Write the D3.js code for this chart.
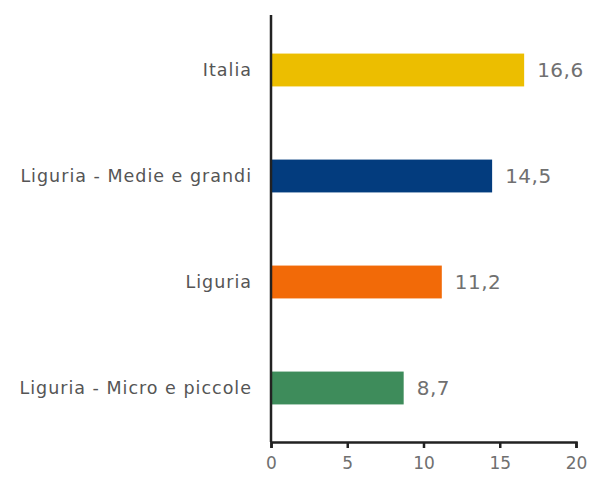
<!DOCTYPE html>
<html>
<head>
<meta charset="utf-8">
<script src="https://cdn.jsdelivr.net/npm/d3@7"></script>
<style>
  body { margin: 0; background: #fff; }
  svg text { font-family: "DejaVu Sans", sans-serif; }
</style>
</head>
<body>
<div id="chart"></div>
<script>
const categories = ['Italia', 'Liguria - Medie e grandi', 'Liguria', 'Liguria - Micro e piccole'];
const values = [16.6, 14.5, 11.2, 8.7];
const barColors = ['#ECBE00', '#033C7E', '#F26A08', '#3E8C5B'];
const xTicks = [0, 5, 10, 15, 20];

const W = 590, H = 477;
const x0 = 271, x1 = 576;
const yTop = 15, yBase = 442;

const svg = d3.select('#chart').append('svg')
    .attr('width', W)
    .attr('height', H);

const x = d3.scaleLinear().domain([0, 20]).range([x0, x1]);
const y = d3.scaleBand()
    .domain(categories)
    .range([17, 441])
    .paddingInner(0.69)
    .paddingOuter(0.345);

// barre
svg.selectAll('.bar')
    .data(categories)
    .enter()
    .append('rect')
    .attr('class', 'bar')
    .attr('x', x(0))
    .attr('y', d => y(d))
    .attr('width', (d, i) => x(values[i]) - x(0))
    .attr('height', y.bandwidth())
    .attr('fill', (d, i) => barColors[i]);

// valori
svg.selectAll('.val')
    .data(categories)
    .enter()
    .append('text')
    .attr('class', 'val')
    .attr('x', (d, i) => x(values[i]) + 13)
    .attr('y', d => y(d) + y.bandwidth() / 2)
    .attr('dy', '0.36em')
    .attr('fill', '#707070')
    .style('font-size', '20px')
    .style('letter-spacing', '0.5px')
    .text((d, i) => String(values[i]).replace('.', ','));

// etichette categorie
svg.selectAll('.cat')
    .data(categories)
    .enter()
    .append('text')
    .attr('class', 'cat')
    .attr('x', x0 - 19)
    .attr('y', d => y(d) + y.bandwidth() / 2)
    .attr('dy', '0.36em')
    .attr('text-anchor', 'end')
    .attr('fill', '#555')
    .style('font-size', '17.5px')
    .style('letter-spacing', '1px')
    .text(d => d);

// asse x
const xAxis = d3.axisBottom(x)
    .tickValues(xTicks)
    .tickSize(6)
    .tickPadding(9)
    .tickFormat(d3.format('d'));

const gx = svg.append('g')
    .attr('transform', `translate(0,${yBase})`)
    .call(xAxis);
gx.select('.domain').attr('stroke', '#222').attr('stroke-width', 2.5);
gx.selectAll('.tick line').attr('stroke', '#222').attr('stroke-width', 2.5);
gx.selectAll('.tick text')
    .attr('fill', '#707070')
    .style('font-size', '17px');

// asse verticale
svg.append('line')
    .attr('x1', x0).attr('x2', x0)
    .attr('y1', yTop).attr('y2', yBase)
    .attr('stroke', '#222')
    .attr('stroke-width', 2.5);
</script>
</body>
</html>
